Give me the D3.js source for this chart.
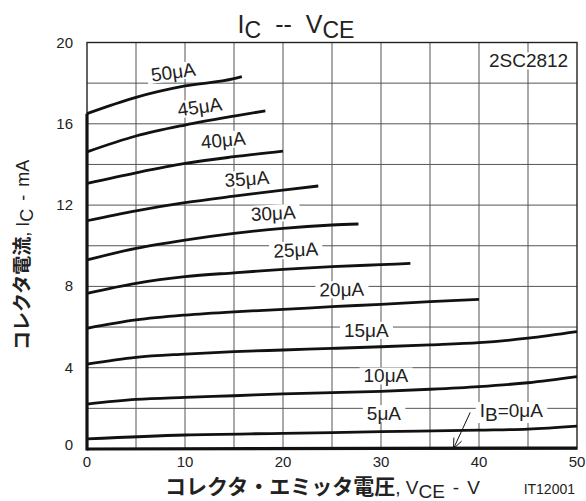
<!DOCTYPE html>
<html><head><meta charset="utf-8">
<script src="https://cdn.jsdelivr.net/npm/d3@7"></script>
<style>
body{margin:0;background:#fff;}
svg{display:block;font-family:"Liberation Sans",Arial,sans-serif;}
</style></head>
<body><svg id="c" width="586" height="501"></svg>
<script>
// ---- data ----
const xTicks = [0,10,20,30,40,50];
const yTicks = [0,4,8,12,16,20];
const seriesNames = ["50μA","45μA","40μA","35μA","30μA","25μA","20μA","15μA","10μA","5μA"];
const v50 = [0,5,10,15,15.8],            i50 = [16.5,17.3,17.86,18.22,18.32];
const v45 = [0,5,10,15,18.2],            i45 = [14.62,15.4,15.94,16.38,16.64];
const v40 = [0,5,10,15,20],              i40 = [13.07,13.59,14.05,14.38,14.66];
const v35 = [0,5,10,15,20,23.6],         i35 = [11.23,11.72,12.12,12.44,12.74,12.94];
const v30 = [0,5,10,15,20,25,27.7],      i30 = [9.3,9.87,10.28,10.61,10.86,11.02,11.07];
const v25 = [0,5,10,15,20,25,30,33],     i25 = [7.66,8.15,8.48,8.67,8.84,8.97,9.07,9.13];
const v20 = [0,5,10,15,20,25,30,35,40],  i20 = [5.94,6.35,6.59,6.75,6.87,7.0,7.12,7.25,7.36];
const v15 = [0,5,10,15,20,25,30,35,40,45,50], i15 = [4.18,4.51,4.67,4.79,4.87,4.95,5.03,5.12,5.23,5.45,5.77];
const v10 = [0,5,10,15,20,25,30,35,40,45,50], i10 = [2.21,2.44,2.54,2.62,2.71,2.77,2.84,2.94,3.07,3.26,3.56];
const v5  = [0,10,20,30,40,45,50],       i5  = [0.5,0.69,0.77,0.85,0.93,0.98,1.13];
const v0  = [0,50],                      i0  = [0,0.05];
// label anchor positions (V, mA) and rotation
const labelV = [8.8,11.5,13.9,16.3,19.0,21.3,26.0,28.5,30.5,30.3];
const labelI = [18.55,16.84,15.2,13.3,11.6,9.8,7.85,5.85,3.6,1.75];
const labelRot = [-8,-8,-5,-4,-3,-3,-1,0,0,0];

const X = [v50,v45,v40,v35,v30,v25,v20,v15,v10,v5];
const Y = [i50,i45,i40,i35,i30,i25,i20,i15,i10,i5];

const svg = d3.select("#c");
const x = d3.scaleLinear().domain([0,50]).range([87,577]);
const y = d3.scaleLinear().domain([0,20]).range([449,42.5]);

// grid
const g = svg.append("g");
g.selectAll(".vg").data(d3.range(5,50,5)).join("line")
  .attr("x1",d=>x(d)).attr("x2",d=>x(d)).attr("y1",y(0)).attr("y2",y(20))
  .attr("stroke","#555").attr("stroke-width",1);
g.selectAll(".hg").data(d3.range(2,20,2)).join("line")
  .attr("x1",x(0)).attr("x2",x(50)).attr("y1",d=>y(d)).attr("y2",d=>y(d))
  .attr("stroke","#555").attr("stroke-width",1);
// frame
g.append("rect").attr("x",x(0)).attr("y",y(20)).attr("width",x(50)-x(0)).attr("height",y(0)-y(20))
  .attr("fill","none").attr("stroke","#222").attr("stroke-width",1.4);

// curve labels with white background
const lab = svg.append("g").attr("font-size",19).attr("fill","#222");
seriesNames.forEach((s,k)=>{
  const gg = lab.append("g").attr("transform",`translate(${x(labelV[k])},${y(labelI[k])}) rotate(${labelRot[k]})`);
  const r = gg.append("rect").attr("fill","#fff");
  const t = gg.append("text").attr("text-anchor","middle").attr("dy","0.35em").text(s);
  const b = t.node().getBBox();
  r.attr("x",b.x-4).attr("y",b.y+2).attr("width",b.width+8).attr("height",b.height-4);
});
// IB=0 label
{
  const gg = lab.append("g").attr("transform",`translate(${x(43.3)},${y(1.9)})`);
  const r = gg.append("rect").attr("fill","#fff");
  const t = gg.append("text").attr("text-anchor","middle").attr("dy","0.35em");
  t.append("tspan").text("I");
  t.append("tspan").attr("dy",4).text("B");
  t.append("tspan").attr("dy",-4).text("=0μA");
  const b = t.node().getBBox();
  r.attr("x",b.x-4).attr("y",b.y+2).attr("width",b.width+8).attr("height",b.height-4);
}
// 2SC2812
{
  const gg = lab.append("g").attr("transform",`translate(${x(49.1)},${y(19.1)})`);
  const r = gg.append("rect").attr("fill","#fff");
  const t = gg.append("text").attr("text-anchor","end").attr("dy","0.35em").text("2SC2812");
  const b = t.node().getBBox();
  r.attr("x",b.x-3).attr("y",b.y+2).attr("width",b.width+5).attr("height",b.height-4);
}

// curves
const line = d3.line().x(d=>x(d[0])).y(d=>y(d[1])).curve(d3.curveMonotoneX);
const cg = svg.append("g").attr("fill","none").attr("stroke","#111").attr("stroke-width",2.8).attr("stroke-linecap","butt");
X.forEach((vs,k)=>{
  cg.append("path").attr("d",line(vs.map((v,j)=>[v,Y[k][j]])));
});
cg.append("path").attr("d",line(v0.map((v,j)=>[v,i0[j]]))).attr("stroke-width",3.2);
// saturation vertical segment
cg.append("line").attr("x1",x(0)).attr("x2",x(0)).attr("y1",y(0)+1.5).attr("y2",y(d3.max(Y,a=>a[0])))
  .attr("stroke-width",3.2);

// arrow for IB=0
{
  const x1 = x(39.1), y1 = y(1.8), x2 = x(37.4), y2 = y(0.02);
  svg.append("line").attr("x1",x1).attr("y1",y1).attr("x2",x2).attr("y2",y2).attr("stroke","#111").attr("stroke-width",1);
  const ang = Math.atan2(y2-y1,x2-x1);
  const L = 11, a = 0.4;
  svg.append("path").attr("fill","none").attr("stroke","#111").attr("stroke-width",1)
    .attr("d",`M${x2-L*Math.cos(ang-a)},${y2-L*Math.sin(ang-a)}L${x2},${y2}L${x2-L*Math.cos(ang+a)},${y2-L*Math.sin(ang+a)}`);
}

// axes tick labels
svg.append("g").attr("font-size",15).attr("fill","#222").selectAll("text").data(xTicks).join("text")
  .attr("x",d=>x(d)).attr("y",467).attr("text-anchor","middle").text(d=>d);
svg.append("g").attr("font-size",15).attr("fill","#222").selectAll("text").data(yTicks).join("text")
  .attr("x",73).attr("y",d=>y(d)+(d===0?1:5)).attr("text-anchor","end").text(d=>d);

// title
{
  const t = svg.append("text").attr("x",296).attr("y",33).attr("text-anchor","middle").attr("font-size",25).attr("fill","#222");
  t.append("tspan").text("I");
  t.append("tspan").attr("dy",5).attr("font-size",23).text("C");
  t.append("tspan").attr("dy",-5).attr("dx",14).text("--");
  t.append("tspan").attr("dx",14).text("V");
  t.append("tspan").attr("dy",5).attr("font-size",23).text("CE");
}
// x axis label
{
  const t = svg.append("text").attr("x",165).attr("y",494).attr("text-anchor","start").attr("font-size",19).attr("fill","#222");
  t.append("tspan").attr("font-family","'Noto Sans CJK JP'").attr("font-weight","bold").attr("font-size",21).text("コレクタ・エミッタ電圧");
  t.append("tspan").text(", V");
  t.append("tspan").attr("dy",4).text("CE");
  t.append("tspan").attr("dy",-4).attr("dx",8).text("-");
  t.append("tspan").attr("dx",8).text("V");
  svg.append("text").attr("x",575).attr("y",494).attr("text-anchor","end").attr("font-size",14).attr("fill","#222").text("IT12001");
}
// y axis label
{
  const t = svg.append("text").attr("transform","translate(29,350) rotate(-90)").attr("text-anchor","start").attr("font-size",18).attr("fill","#222");
  t.append("tspan").attr("font-family","'Noto Sans CJK JP'").attr("font-weight","bold").attr("font-size",19).text("コレクタ電流");
  t.append("tspan").text(", I");
  t.append("tspan").attr("dy",4).text("C");
  t.append("tspan").attr("dy",-4).attr("dx",8).text("-");
  t.append("tspan").attr("dx",8).text("mA");
}
</script></body></html>
